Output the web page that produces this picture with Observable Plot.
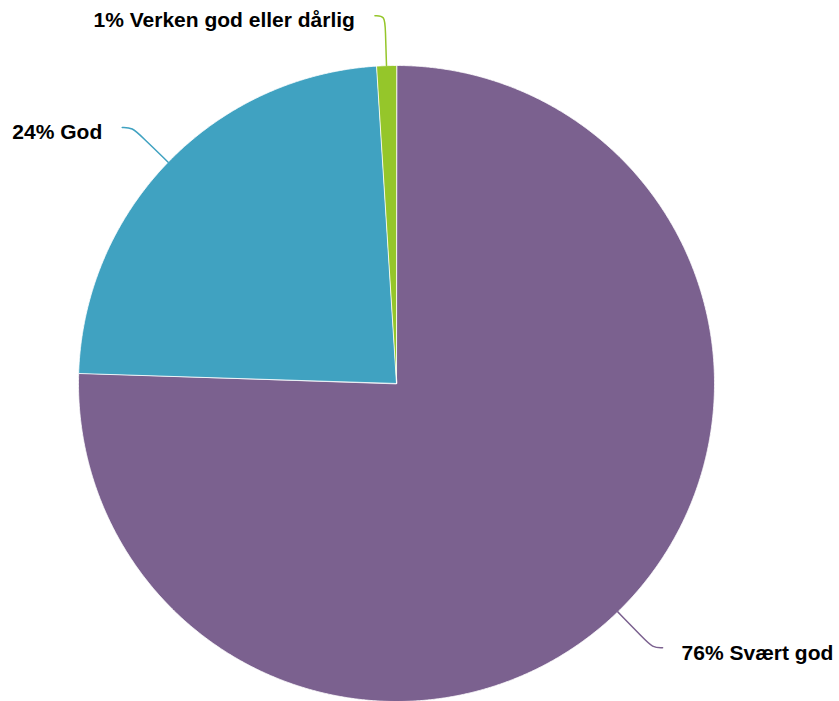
<!DOCTYPE html>
<html>
<head>
<meta charset="utf-8">
<script src="https://cdn.jsdelivr.net/npm/d3@7"></script>
<script src="https://cdn.jsdelivr.net/npm/@observablehq/plot@0.6"></script>
<style>
  html, body { margin: 0; padding: 0; background: #fff; }
  #chart svg { display: block; }
</style>
</head>
<body>
<div id="chart"></div>
<script>
// ---- data ----
const categories = ["Svært god", "God", "Verken god eller dårlig"];
const values = [75.5, 23.5, 1.0];
const colors = ["#7b618f", "#40a2c1", "#95c62a"];

// ---- layout ----
const W = 839, H = 701;
const cx = 396, cy = 383, Rpx = 318;
const k = 1 / Rpx; // data units per pixel

const total = d3.sum(values);
let acc = 0;
const slices = categories.map((c, i) => {
  const a0 = acc / total * 2 * Math.PI;
  acc += values[i];
  const a1 = acc / total * 2 * Math.PI;
  return {cat: c, value: values[i], a0, a1, mid: (a0 + a1) / 2};
});

// polygon points for each slice (angle clockwise from 12 o'clock)
const pts = [];
for (const s of slices) {
  pts.push({cat: s.cat, x: 0, y: 0});
  const n = Math.max(4, Math.ceil((s.a1 - s.a0) / (Math.PI / 720)));
  for (let j = 0; j <= n; j++) {
    const a = s.a0 + (s.a1 - s.a0) * j / n;
    pts.push({cat: s.cat, x: Math.sin(a), y: Math.cos(a)});
  }
}

// leader lines and labels
const lead = [];
const labels = [];
for (const s of slices) {
  const ux = Math.sin(s.mid), uy = Math.cos(s.mid);
  const side = ux >= 0 ? 1 : -1;
  const A = [ux, uy];
  const C = [ux * (1 + 50 * k), uy * (1 + 50 * k)];
  const P = [ux * (1 + 36 * k), uy * (1 + 36 * k)];
  const E = [C[0] + side * 10 * k, C[1]];
  for (const p of [A, A, P, C, E, E]) lead.push({cat: s.cat, x: p[0], y: p[1]});
  labels.push({
    cat: s.cat,
    x: E[0], y: E[1], side,
    text: Math.round(s.value) + "% " + s.cat
  });
}

const chart = Plot.plot({
  width: W,
  height: H,
  margin: 0,
  x: {domain: [-cx * k, (W - cx) * k], range: [0, W], axis: null},
  y: {domain: [-(H - cy) * k, cy * k], range: [H, 0], axis: null},
  color: {domain: categories, range: colors},
  style: {background: "#fff"},
  marks: [
    Plot.line(pts, {
      x: "x", y: "y", z: "cat", fill: "cat",
      stroke: "#ffffff", strokeWidth: 1, strokeOpacity: 0.8,
      curve: "linear-closed"
    }),
    Plot.line(lead, {
      x: "x", y: "y", z: "cat", stroke: "cat",
      strokeWidth: 1.5, curve: "basis"
    }),
    Plot.text(labels.filter(d => d.side > 0), {
      x: "x", y: "y", text: "text", dx: 19, dy: 5,
      textAnchor: "start", lineAnchor: "middle",
      fontSize: 21, fontWeight: "bold",
      fontFamily: "'Liberation Sans', Arial, Helvetica, sans-serif",
      fill: "#000"
    }),
    Plot.text(labels.filter(d => d.side < 0), {
      x: "x", y: "y", text: "text", dx: -20, dy: 5,
      textAnchor: "end", lineAnchor: "middle",
      fontSize: 21, fontWeight: "bold",
      fontFamily: "'Liberation Sans', Arial, Helvetica, sans-serif",
      fill: "#000"
    })
  ]
});
document.getElementById("chart").appendChild(chart);
</script>
</body>
</html>
